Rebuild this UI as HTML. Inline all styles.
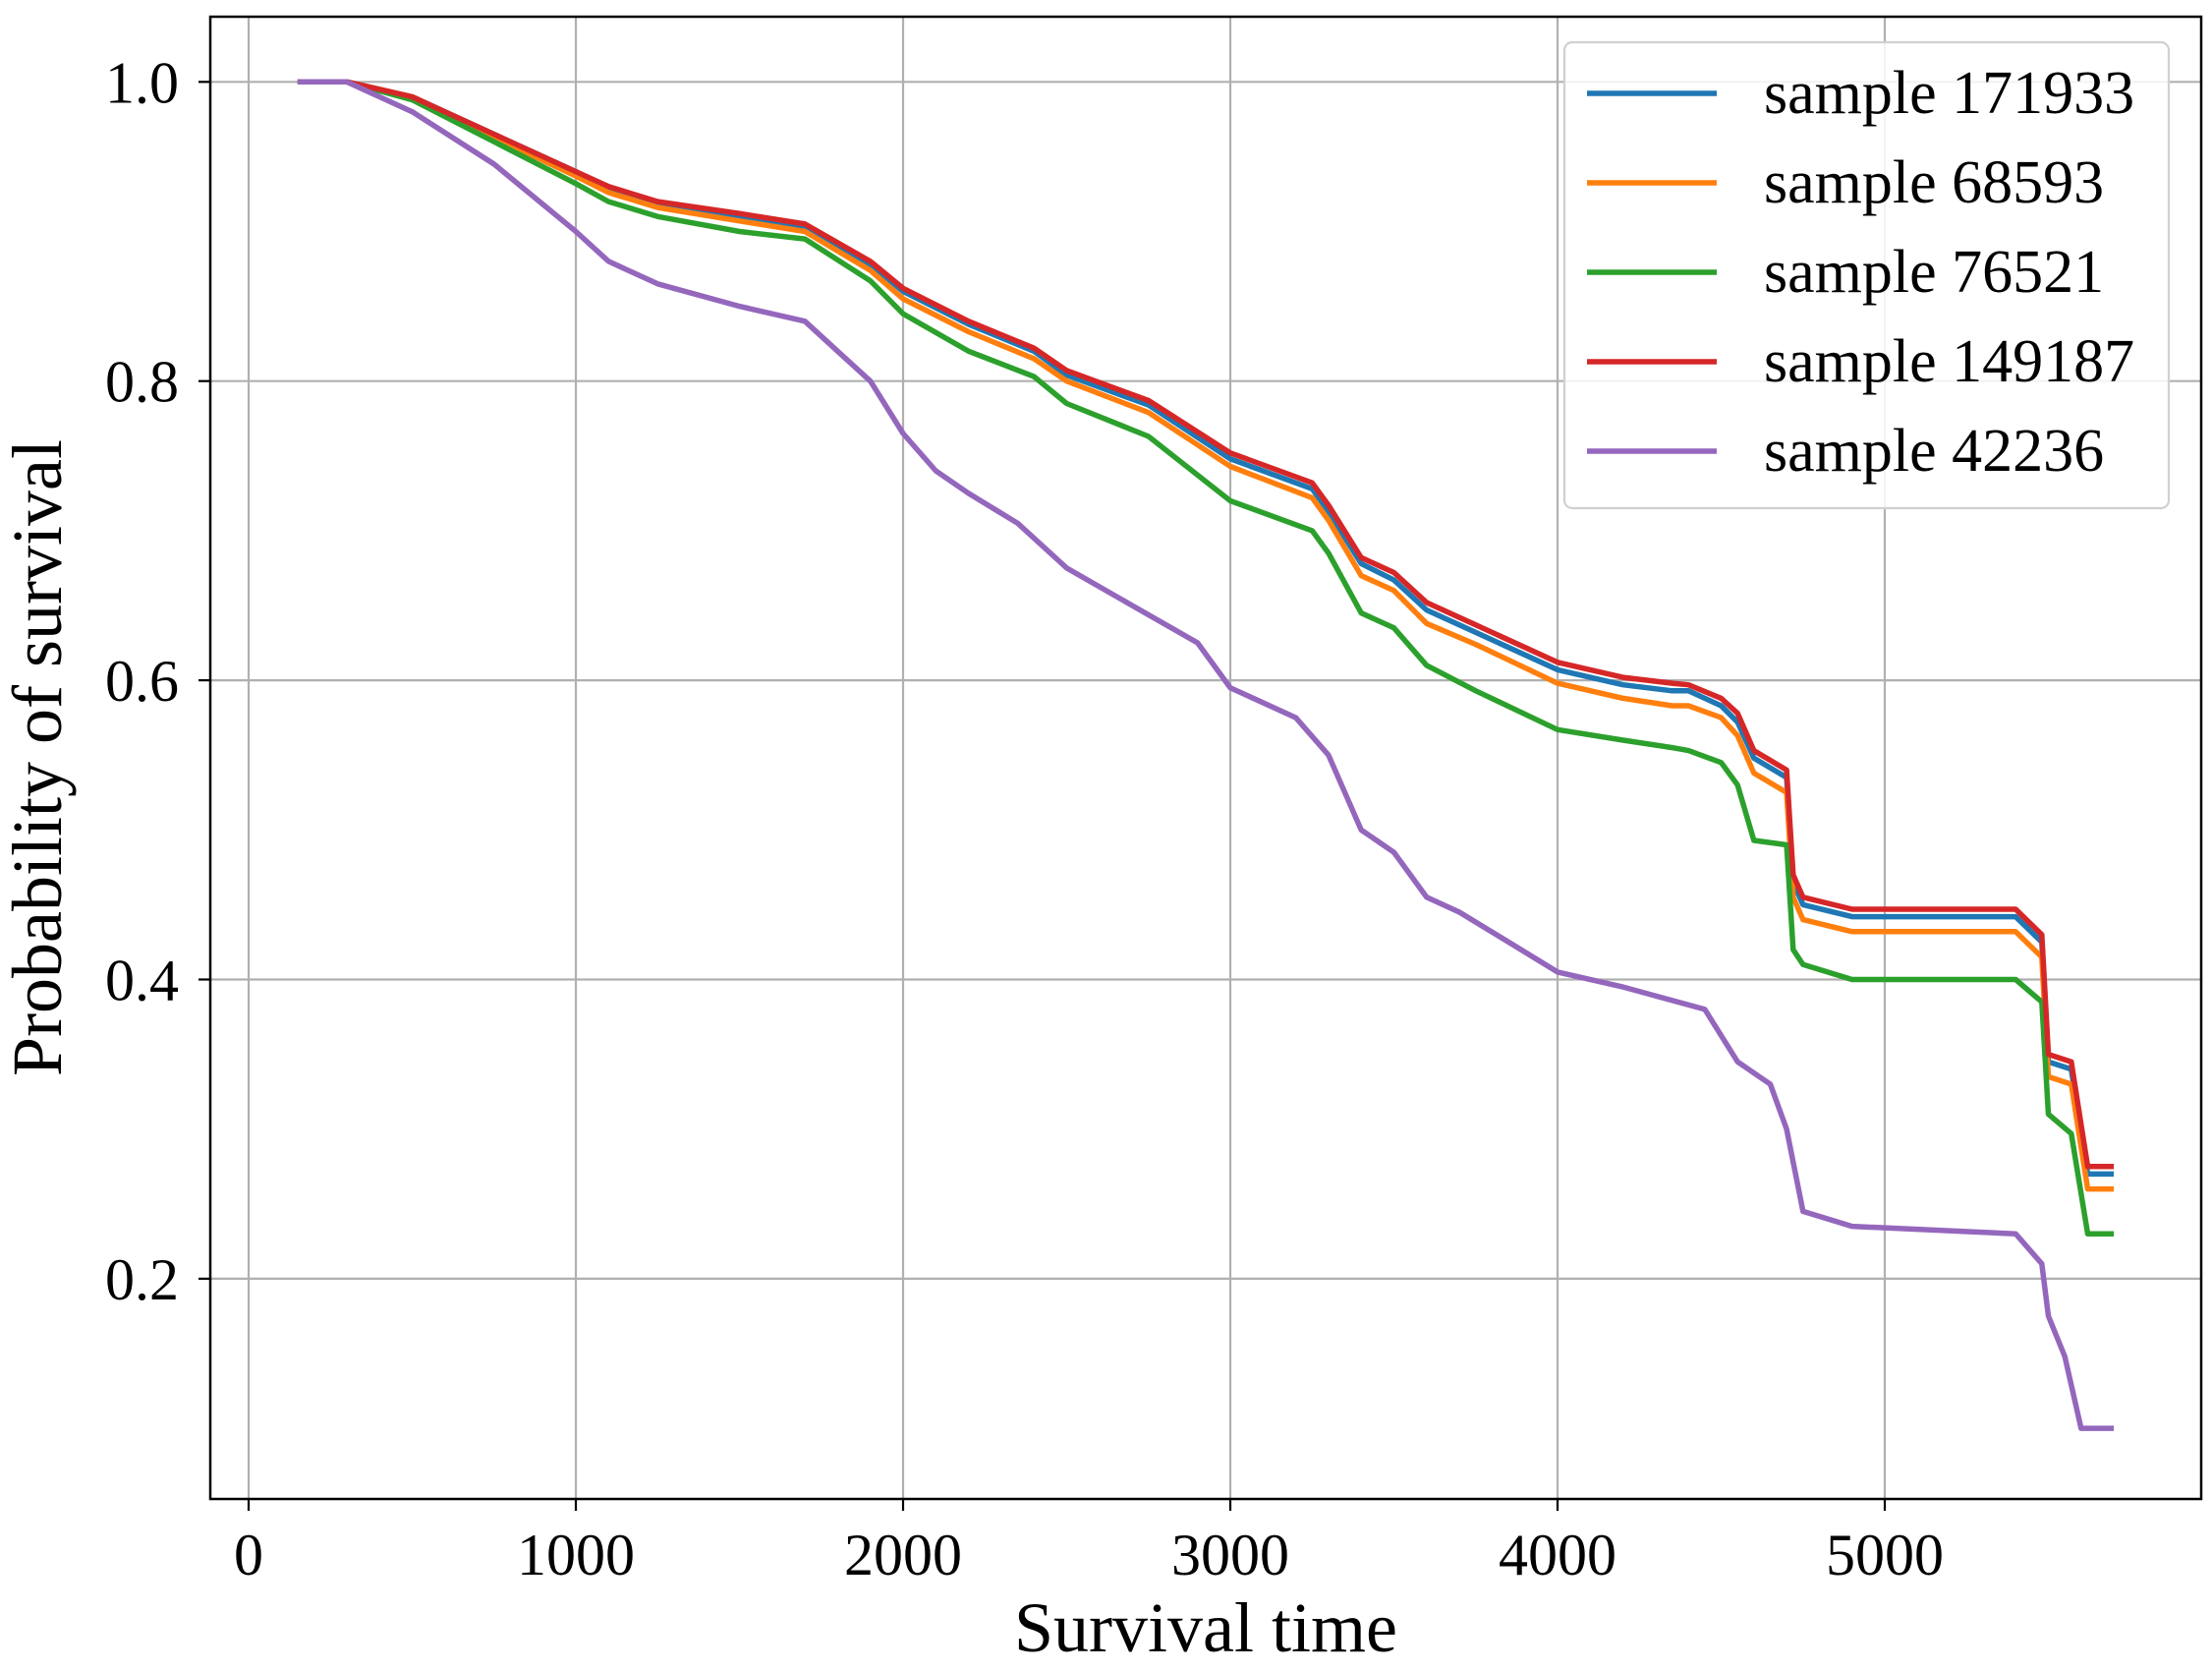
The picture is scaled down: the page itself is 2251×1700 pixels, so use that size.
<!DOCTYPE html>
<html><head><meta charset="utf-8"><style>
html,body{margin:0;padding:0;background:#fff}
svg text{font-family:"Liberation Serif",serif;fill:#000}
</style></head><body>
<svg width="2251" height="1695" viewBox="0 0 2251 1695" xmlns="http://www.w3.org/2000/svg">
<g id="grid"></g>
<g id="series"></g>
<rect x="214" y="17" width="2026" height="1508" fill="none" stroke="#000" stroke-width="2.5"/>
<g id="ticks"></g>
<text x="1227" y="1680" font-size="72" text-anchor="middle">Survival time</text>
<text transform="translate(62,771) rotate(-90)" font-size="72" text-anchor="middle">Probability of survival</text>
<g id="legend"></g>
</svg>
<script>
const xTicks=[0,1000,2000,3000,4000,5000];
const yTicks=[0.2,0.4,0.6,0.8,1.0];
const yTickLabels=["0.2","0.4","0.6","0.8","1.0"];
const seriesNames=["sample 171933","sample 68593","sample 76521","sample 149187","sample 42236"];
const seriesColors=["#1f77b4","#ff7f0e","#2ca02c","#d62728","#9467bd"];
const tRed=[150,300,500,750,1000,1100,1250,1500,1700,1900,2000,2200,2400,2500,2750,3000,3250,3300,3400,3500,3600,3750,4000,4200,4350,4400,4500,4550,4600,4700,4720,4750,4900,5250,5400,5480,5500,5570,5620,5700];
const vRed=[1,1,0.99,0.965,0.94,0.93,0.92,0.912,0.905,0.88,0.862,0.84,0.822,0.807,0.787,0.752,0.732,0.717,0.682,0.672,0.652,0.637,0.612,0.602,0.598,0.597,0.588,0.578,0.553,0.54,0.47,0.455,0.447,0.447,0.447,0.43,0.35,0.345,0.275,0.275];
const vBlue=[1,1,0.99,0.965,0.94,0.929,0.919,0.91,0.903,0.878,0.86,0.838,0.82,0.804,0.784,0.748,0.728,0.713,0.678,0.667,0.647,0.632,0.607,0.597,0.593,0.593,0.583,0.572,0.548,0.535,0.465,0.45,0.442,0.442,0.442,0.425,0.345,0.34,0.27,0.27];
const vOrange=[1,1,0.99,0.963,0.937,0.926,0.916,0.907,0.9,0.874,0.855,0.833,0.815,0.8,0.779,0.743,0.722,0.707,0.67,0.66,0.638,0.624,0.598,0.588,0.583,0.583,0.575,0.563,0.538,0.525,0.455,0.44,0.432,0.432,0.432,0.415,0.335,0.33,0.26,0.26];
const vGreen=[1,1,0.988,0.96,0.932,0.92,0.91,0.9,0.895,0.867,0.845,0.82,0.803,0.785,0.763,0.72,0.7,0.685,0.645,0.635,0.61,0.593,0.567,0.56,0.555,0.553,0.545,0.53,0.493,0.49,0.42,0.41,0.4,0.4,0.4,0.385,0.31,0.297,0.23,0.23];
const tPurple=[150,300,500,750,1000,1100,1250,1500,1700,1800,1900,2000,2100,2200,2350,2500,2700,2900,3000,3200,3300,3400,3500,3600,3700,3850,4000,4200,4450,4550,4650,4700,4750,4900,5400,5480,5500,5550,5600,5700];
const vPurple=[1,1,0.98,0.945,0.9,0.88,0.865,0.85,0.84,0.82,0.8,0.765,0.74,0.725,0.705,0.675,0.65,0.625,0.595,0.575,0.55,0.5,0.485,0.455,0.445,0.425,0.405,0.395,0.38,0.345,0.33,0.3,0.245,0.235,0.23,0.21,0.175,0.148,0.1,0.1];
const seriesData=[[tRed,vBlue],[tRed,vOrange],[tRed,vGreen],[tRed,vRed],[tPurple,vPurple]];
const drawOrder=[0,1,2,3,4];
const NS="http://www.w3.org/2000/svg";
function xs(t){return 253+t*0.333;}
function ys(v){return 83.3+(1-v)*1522;}
function mk(tag,attrs,parent){const e=document.createElementNS(NS,tag);for(const k in attrs)e.setAttribute(k,attrs[k]);parent.appendChild(e);return e;}
const grid=document.getElementById('grid'),ticks=document.getElementById('ticks'),ser=document.getElementById('series'),leg=document.getElementById('legend');
xTicks.forEach((t,i)=>{
 const g=mk('line',{x1:xs(t),x2:xs(t),y1:17,y2:1525,stroke:'#b0b0b0','stroke-width':2.2},grid);
 
 
 const tk=mk('line',{x1:xs(t),x2:xs(t),y1:1525,y2:1537,stroke:'#000','stroke-width':2.2},ticks);
 
 
 const tx=mk('text',{x:xs(t),y:1602,'font-size':60,'text-anchor':'middle'},ticks);tx.textContent=String(t);
 
 
});
yTicks.forEach((v,i)=>{
 const g=mk('line',{x1:214,x2:2240,y1:ys(v),y2:ys(v),stroke:'#b0b0b0','stroke-width':2.2},grid);
 
 
 const tk=mk('line',{x1:202,x2:214,y1:ys(v),y2:ys(v),stroke:'#000','stroke-width':2.2},ticks);
 
 
 const tx=mk('text',{x:182,y:ys(v)+21,'font-size':60,'text-anchor':'end'},ticks);tx.textContent=yTickLabels[i];
 
 
});
drawOrder.forEach(i=>{
 const [t,v]=seriesData[i];let d='';
 for(let k=0;k<t.length;k++){d+=(k?'L':'M')+xs(t[k]).toFixed(1)+','+ys(v[k]).toFixed(1);}
 const p=mk('path',{d:d,fill:'none',stroke:seriesColors[i],'stroke-width':5.5,'stroke-linejoin':'round'},ser);
 
 
});
const box=mk('rect',{x:1592,y:43,width:615,height:474,rx:8,fill:'#fff','fill-opacity':0.85,stroke:'#d0d0d0','stroke-width':2.2},leg);


seriesNames.forEach((n,i)=>{
 const y=95+i*91;
 const l=mk('line',{x1:1615,x2:1747,y1:y,y2:y,stroke:seriesColors[i],'stroke-width':5.5},leg);
 
 
 const tx=mk('text',{x:1795,y:y+20,'font-size':62},leg);tx.textContent=n;
 
 
});
</script>
</body></html>
